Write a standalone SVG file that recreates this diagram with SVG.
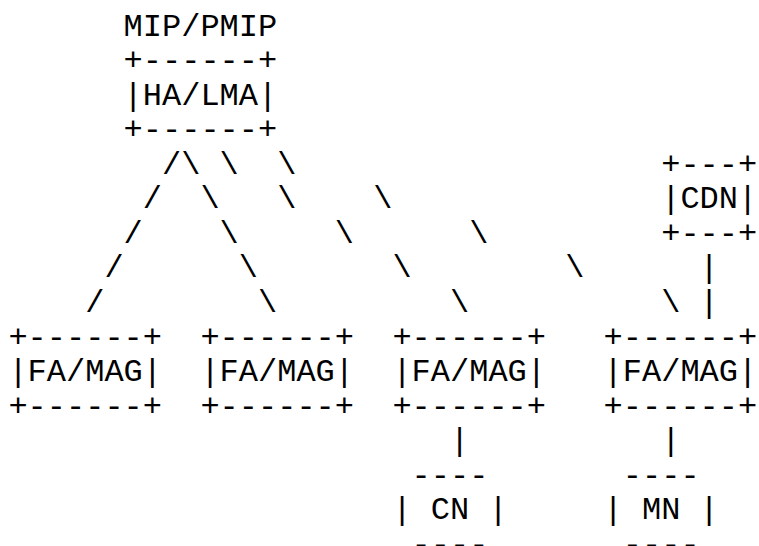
<svg xmlns="http://www.w3.org/2000/svg" width="759" height="546" viewBox="0 0 759 546">
<style>
text { font-family: "Courier New", "Nimbus Mono PS", "Nimbus Mono L", FreeMono, "Liberation Mono", monospace; font-size: 32px; fill: #000; white-space: pre; }
</style>
<rect width="759" height="546" fill="#fff"/>
<g id="ha-lma" xml:space="preserve">
<text x="123.6" y="35.5">MIP/PMIP</text>
<text x="123.6" y="70.07">+------+</text>
<text x="123.6" y="104.64">|HA/LMA|</text>
<text x="123.6" y="139.21">+------+</text>
</g>
<g id="cdn" xml:space="preserve">
<text x="661.2" y="173.78">+---+</text>
<text x="661.2" y="208.35">|CDN|</text>
<text x="661.2" y="242.92">+---+</text>
</g>
<g id="fa-mag-1" xml:space="preserve">
<text x="8.4" y="346.63">+------+</text>
<text x="8.4" y="381.2">|FA/MAG|</text>
<text x="8.4" y="415.77">+------+</text>
</g>
<g id="fa-mag-2" xml:space="preserve">
<text x="200.4" y="346.63">+------+</text>
<text x="200.4" y="381.2">|FA/MAG|</text>
<text x="200.4" y="415.77">+------+</text>
</g>
<g id="fa-mag-3" xml:space="preserve">
<text x="392.4" y="346.63">+------+</text>
<text x="392.4" y="381.2">|FA/MAG|</text>
<text x="392.4" y="415.77">+------+</text>
</g>
<g id="fa-mag-4" xml:space="preserve">
<text x="603.6" y="346.63">+------+</text>
<text x="603.6" y="381.2">|FA/MAG|</text>
<text x="603.6" y="415.77">+------+</text>
</g>
<g id="cn" xml:space="preserve">
<text x="411.6" y="484.91">----</text>
<text x="392.4" y="519.48">| CN |</text>
<text x="411.6" y="554.05">----</text>
</g>
<g id="mn" xml:space="preserve">
<text x="622.8" y="484.91">----</text>
<text x="603.6" y="519.48">| MN |</text>
<text x="622.8" y="554.05">----</text>
</g>
<g id="connectors">
<text x="162" y="173.78">/</text>
<text x="142.8" y="208.35">/</text>
<text x="123.6" y="242.92">/</text>
<text x="104.4" y="277.49">/</text>
<text x="85.2" y="312.06">/</text>
<text x="181.2" y="173.78">\</text>
<text x="200.4" y="208.35">\</text>
<text x="219.6" y="242.92">\</text>
<text x="238.8" y="277.49">\</text>
<text x="258" y="312.06">\</text>
<text x="219.6" y="173.78">\</text>
<text x="277.2" y="208.35">\</text>
<text x="334.8" y="242.92">\</text>
<text x="392.4" y="277.49">\</text>
<text x="450" y="312.06">\</text>
<text x="277.2" y="173.78">\</text>
<text x="373.2" y="208.35">\</text>
<text x="469.2" y="242.92">\</text>
<text x="565.2" y="277.49">\</text>
<text x="661.2" y="312.06">\</text>
<text x="699.6" y="277.49">|</text>
<text x="699.6" y="312.06">|</text>
<text x="450" y="450.34">|</text>
<text x="661.2" y="450.34">|</text>
</g>
</svg>
